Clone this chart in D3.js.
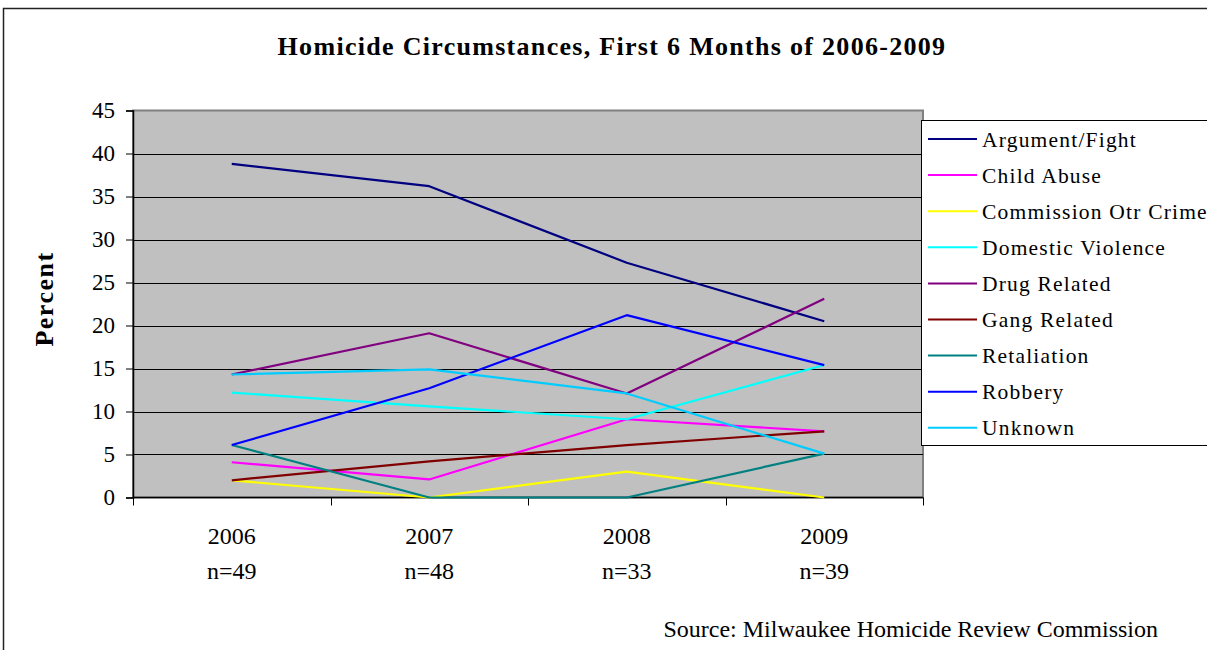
<!DOCTYPE html>
<html><head><meta charset="utf-8">
<script src="https://cdn.jsdelivr.net/npm/d3@7/dist/d3.min.js"></script>
<style>body{margin:0;background:#fff}svg{display:block}</style>
</head><body><svg id="c" width="1207" height="650"></svg>
<script>
const years = ["2006","2007","2008","2009"];
const counts = ["n=49","n=48","n=33","n=39"];
const yTicks = [0,5,10,15,20,25,30,35,40,45];
const seriesNames = ["Argument/Fight","Child Abuse","Commission Otr Crime","Domestic Violence","Drug Related","Gang Related","Retaliation","Robbery","Unknown"];
const seriesColors = ["#000080","#FF00FF","#FFFF00","#00FFFF","#800080","#800000","#008080","#0000FF","#00CCFF"];
const argumentFight = [38.8,36.2,27.3,20.5];
const childAbuse = [4.1,2.1,9.1,7.7];
const commissionOtrCrime = [2.0,0,3.0,0];
const domesticViolence = [12.2,10.6,9.1,15.4];
const drugRelated = [14.3,19.1,12.1,23.1];
const gangRelated = [2.0,4.2,6.1,7.7];
const retaliation = [6.1,0,0,5.1];
const robbery = [6.1,12.7,21.2,15.4];
const unknown = [14.3,14.9,12.1,5.1];
const seriesValues = [argumentFight,childAbuse,commissionOtrCrime,domesticViolence,drugRelated,gangRelated,retaliation,robbery,unknown];

const svg = d3.select("#c");
const serif = "'Liberation Serif','Times New Roman',serif";
const L=133,R=923,T=110.5,B=497.5;

// outer frame
svg.append("rect").attr("x",3.5).attr("y",8.5).attr("width",1220).attr("height",660)
  .attr("fill","none").attr("stroke","#222").attr("stroke-width",1.5);

const x = d3.scaleBand().domain(years).range([L,R]);
const y = d3.scaleLinear().domain([0,45]).range([B,T]);

svg.append("rect").attr("x",L).attr("y",T).attr("width",R-L).attr("height",B-T)
  .attr("fill","#C0C0C0").attr("stroke","#808080").attr("stroke-width",2);

// gridlines
svg.append("g").selectAll("line").data(yTicks.filter(d=>d>0&&d<45)).join("line")
  .attr("x1",L).attr("x2",R).attr("y1",d=>Math.round(y(d))+0.5).attr("y2",d=>Math.round(y(d))+0.5)
  .attr("stroke","#000").attr("stroke-width",1);

// y axis
const ya = svg.append("g").attr("transform",`translate(${L},0)`)
  .call(d3.axisLeft(y).tickValues(yTicks).tickSize(7).tickPadding(11).tickFormat(d3.format("d")));
ya.select(".domain").attr("stroke","#000").attr("stroke-width",1.5);
ya.selectAll(".tick line").attr("stroke","#000");
ya.selectAll("text").attr("font-family",serif).attr("font-size",23).attr("fill","#000");

// x axis baseline and ticks
svg.append("line").attr("x1",L).attr("x2",R).attr("y1",B).attr("y2",B).attr("stroke","#000").attr("stroke-width",1.5);
const bounds = years.map(d=>x(d)).concat([R]);
svg.append("g").selectAll("line").data(bounds).join("line")
  .attr("x1",d=>Math.round(d)+0.5).attr("x2",d=>Math.round(d)+0.5).attr("y1",B).attr("y2",B+8)
  .attr("stroke","#000");
const xl = svg.append("g").selectAll("g").data(years).join("g")
  .attr("transform",d=>`translate(${x(d)+x.bandwidth()/2},0)`);
xl.append("text").attr("y",544).attr("text-anchor","middle").attr("font-family",serif).attr("font-size",24).text(d=>d);
xl.append("text").attr("y",579).attr("text-anchor","middle").attr("font-family",serif).attr("font-size",24).text((d,i)=>counts[i]);

// lines
const line = d3.line().x((d,i)=>x(years[i])+x.bandwidth()/2).y(d=>y(d));
svg.append("g").selectAll("path").data(seriesValues).join("path")
  .attr("d",line).attr("fill","none").attr("stroke",(d,i)=>seriesColors[i]).attr("stroke-width",2.2)
  .attr("stroke-linejoin","round");

// title
svg.append("text").attr("x",612).attr("y",55).attr("text-anchor","middle").attr("font-family",serif)
  .attr("font-weight","bold").attr("font-size",26).attr("letter-spacing",1.3)
  .text("Homicide Circumstances, First 6 Months of 2006-2009");
// y label
svg.append("text").attr("transform","translate(53,299) rotate(-90)").attr("text-anchor","middle")
  .attr("font-family",serif).attr("font-weight","bold").attr("font-size",26).attr("letter-spacing",1.5).text("Percent");
// source
svg.append("text").attr("x",1158).attr("y",637).attr("text-anchor","end").attr("font-family",serif)
  .attr("font-size",24).text("Source: Milwaukee Homicide Review Commission");

// legend
const lg = svg.append("g");
lg.append("rect").attr("x",921.5).attr("y",120.5).attr("width",300).attr("height",325)
  .attr("fill","#fff").attr("stroke","#000").attr("stroke-width",1);
const items = lg.selectAll("g").data(seriesNames).join("g")
  .attr("transform",(d,i)=>`translate(0,${139+i*36.1})`);
items.append("line").attr("x1",928).attr("x2",977).attr("y1",0).attr("y2",0)
  .attr("stroke",(d,i)=>seriesColors[i]).attr("stroke-width",2);
items.append("text").attr("x",982).attr("y",7.5).attr("font-family",serif).attr("font-size",21.5)
  .attr("letter-spacing",1.2).text(d=>d);
</script></body></html>
